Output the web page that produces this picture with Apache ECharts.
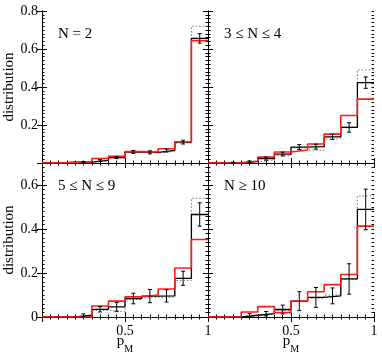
<!DOCTYPE html>
<html>
<head>
<meta charset="utf-8">
<script src="https://cdn.jsdelivr.net/npm/echarts@6/dist/echarts.min.js"></script>
<style>html,body{margin:0;padding:0;background:#fff;}#c{width:382px;height:353px;}</style>
</head>
<body>
<div id="c"></div>
<script>
// ---- data ----
const binEdges   = [0, 0.1, 0.2, 0.3, 0.4, 0.5, 0.6, 0.7, 0.8, 0.9, 1.0];
const binCenters = [0.05, 0.15, 0.25, 0.35, 0.45, 0.55, 0.65, 0.75, 0.85, 0.95];
const panelLabels = ['N = 2', '3 \u2264 N \u2264 4', '5 \u2264 N \u2264 9', 'N \u2265 10'];
const yMaxTop = 0.8, yMaxBottom = 0.7;
const yTickInterval = 0.2;

// observed (black) histograms with errors
const obsN2   = [0, 0.004, 0.005, 0.014, 0.029, 0.058, 0.056, 0.066, 0.110, 0.656];
const errN2   = [0, 0, 0.003, 0.004, 0.006, 0.008, 0.008, 0.008, 0.010, 0.025];
const obsN34  = [0, 0.002, 0.007, 0.023, 0.047, 0.084, 0.086, 0.138, 0.187, 0.423];
const errN34  = [0, 0.002, 0.004, 0.008, 0.010, 0.013, 0.013, 0.014, 0.025, 0.030];
const obsN59  = [0, 0, 0.008, 0.035, 0.046, 0.084, 0.095, 0.096, 0.176, 0.466];
const errN59  = [0, 0, 0.006, 0.012, 0.020, 0.024, 0.030, 0.028, 0.032, 0.053];
const obsN10  = [0, 0, 0.008, 0.015, 0.034, 0.072, 0.089, 0.096, 0.173, 0.489];
const errN10  = [0, 0, 0.007, 0.010, 0.020, 0.043, 0.045, 0.036, 0.069, 0.092];

// model (red) histograms
const redN2   = [0, 0.003, 0.005, 0.024, 0.035, 0.060, 0.058, 0.075, 0.112, 0.644];
const redN34  = [0, 0, 0.010, 0.031, 0.058, 0.068, 0.100, 0.152, 0.250, 0.336];
const redN59  = [0, 0, 0, 0.050, 0.072, 0.092, 0.100, 0.127, 0.223, 0.352];
const redN10  = [0, 0, 0.023, 0.047, 0.020, 0.073, 0.115, 0.147, 0.193, 0.413];

// second model (dotted) histograms
const dotN2   = [0, 0.002, 0.004, 0.012, 0.026, 0.055, 0.053, 0.062, 0.105, 0.720];
const dotN34  = [0, 0.002, 0.006, 0.016, 0.038, 0.080, 0.068, 0.126, 0.190, 0.490];
const dotN59  = [0, 0, 0.004, 0.030, 0.024, 0.080, 0.090, 0.090, 0.166, 0.540];
const dotN10  = [0, 0, 0.006, 0.012, 0.030, 0.070, 0.085, 0.100, 0.170, 0.550];

const panels = [
  {obs: obsN2,  err: errN2,  red: redN2,  dot: dotN2,  ymax: yMaxTop},
  {obs: obsN34, err: errN34, red: redN34, dot: dotN34, ymax: yMaxTop},
  {obs: obsN59, err: errN59, red: redN59, dot: dotN59, ymax: yMaxBottom},
  {obs: obsN10, err: errN10, red: redN10, dot: dotN10, ymax: yMaxBottom}
];

// ---- layout ----
const FONT = 'Liberation Serif';
const gridBoxes = [
  {left: 42, top: 11, width: 166, height: 152},
  {left: 208, top: 11, width: 166, height: 152},
  {left: 42, top: 163, width: 166, height: 154},
  {left: 208, top: 163, width: 166, height: 154}
];

function stepData(vals) {
  const d = vals.map((v, i) => [binEdges[i], v]);
  d.push([binEdges[binEdges.length - 1], vals[vals.length - 1]]);
  return d;
}

function renderErr(params, api) {
  const x = api.value(0), y = api.value(1), e = api.value(2);
  const t = api.coord([x, y + e]);
  const b = api.coord([x, y - e]);
  const hw = 2;
  const st = {stroke: '#000', lineWidth: 1};
  return {type: 'group', children: [
    {type: 'line', shape: {x1: t[0], y1: t[1], x2: b[0], y2: b[1]}, style: st},
    {type: 'line', shape: {x1: t[0] - hw, y1: t[1], x2: t[0] + hw, y2: t[1]}, style: st},
    {type: 'line', shape: {x1: b[0] - hw, y1: b[1], x2: b[0] + hw, y2: b[1]}, style: st}
  ]};
}

const grids = [], xAxes = [], yAxes = [], series = [], titles = [];
const axLine = {show: true, lineStyle: {color: '#000', width: 1}};

panels.forEach((p, g) => {
  grids.push(Object.assign({show: false, containLabel: false, outerBoundsMode: 'none'}, gridBoxes[g]));
  const bottomRow = g >= 2, leftCol = g % 2 === 0;
  const xMainIdx = xAxes.length;
  ['bottom', 'top'].forEach((pos, k) => {
    xAxes.push({
      type: 'value', gridIndex: g, position: pos, min: 0, max: 1, interval: 0.5,
      axisLine: axLine,
      axisTick: {show: true, inside: true, length: 5, lineStyle: {color: '#000'}},
      minorTick: {show: true, splitNumber: 10, length: 2.5, lineStyle: {color: '#000'}},
      splitLine: {show: false},
      axisLabel: {show: k === 0 && bottomRow, color: '#000', fontFamily: FONT, fontSize: 14, margin: 7,
        formatter: v => (v === 0 ? '' : String(v))},
      name: (k === 0 && bottomRow) ? '{p|p}{s|M}{g| }' : '',
      nameLocation: 'middle', nameGap: 17, nameMoveOverlap: false,
      nameTextStyle: {rich: {
        p: {fontFamily: FONT, fontSize: 15, color: '#000', lineHeight: 15, verticalAlign: 'top'},
        s: {fontFamily: FONT, fontSize: 10, color: '#000', lineHeight: 10, verticalAlign: 'bottom'},
        g: {fontFamily: FONT, fontSize: 1, lineHeight: 20, verticalAlign: 'top'}
      }}
    });
  });
  const yMainIdx = yAxes.length;
  ['left', 'right'].forEach((pos, k) => {
    yAxes.push({
      type: 'value', gridIndex: g, position: pos, min: 0, max: p.ymax, interval: yTickInterval,
      axisLine: axLine,
      axisTick: {show: true, inside: true, length: 5, lineStyle: {color: '#000'}},
      splitLine: {show: false},
      axisLabel: {show: k === 0 && leftCol, color: '#000', fontFamily: FONT, fontSize: 14, margin: 4,
        showMaxLabel: true,
        formatter: v => {
          if (!bottomRow && v === 0) return '';
          if (Math.abs(v - yMaxBottom) < 1e-9 && bottomRow) return '';
          return String(Math.round(v * 10) / 10);
        }},
      name: (k === 0 && leftCol) ? 'distribution' : '',
      nameLocation: 'middle', nameGap: 22, nameRotate: 90,
      nameTextStyle: {fontFamily: FONT, fontSize: 15, color: '#000'}
    });
  });
  ['left', 'right'].forEach(pos => {
    yAxes.push({
      type: 'value', gridIndex: g, position: pos, min: 0, max: p.ymax, interval: 0.02,
      axisLine: {show: false},
      axisTick: {show: true, inside: true, length: 2.5, lineStyle: {color: '#000'}},
      splitLine: {show: false},
      axisLabel: {show: false}
    });
  });

  const common = {xAxisIndex: xMainIdx, yAxisIndex: yMainIdx, animation: false, silent: true};
  series.push(Object.assign({
    type: 'line', step: 'end', data: stepData(p.dot), showSymbol: false,
    lineStyle: {color: '#777', width: 1, type: [1.5, 2]}, z: 2
  }, common));
  series.push(Object.assign({
    type: 'line', step: 'end', data: stepData(p.obs), showSymbol: false,
    lineStyle: {color: '#000', width: 1.3}, z: 3
  }, common));
  series.push(Object.assign({
    type: 'line', step: 'end', data: stepData(p.red), showSymbol: false,
    lineStyle: {color: '#ff1a1a', width: 1.6}, z: 4
  }, common));
  const errData = [];
  binCenters.forEach((c, i) => { if (p.obs[i] > 0 && p.err[i] > 0) errData.push([c, p.obs[i], p.err[i]]); });
  series.push(Object.assign({
    type: 'custom', renderItem: renderErr, data: errData, z: 5,
    encode: {x: 0, y: 1}
  }, common));

  titles.push({
    text: panelLabels[g], padding: 0,
    left: gridBoxes[g].left + 16, top: gridBoxes[g].top + 16,
    textStyle: {fontFamily: FONT, fontSize: 15, fontWeight: 'normal', color: '#000'}
  });
});

const chart = echarts.init(document.getElementById('c'), null, {renderer: 'canvas'});
chart.setOption({
  backgroundColor: '#fff',
  animation: false,
  title: titles,
  grid: grids,
  xAxis: xAxes,
  yAxis: yAxes,
  series: series
});
</script>
</body>
</html>
